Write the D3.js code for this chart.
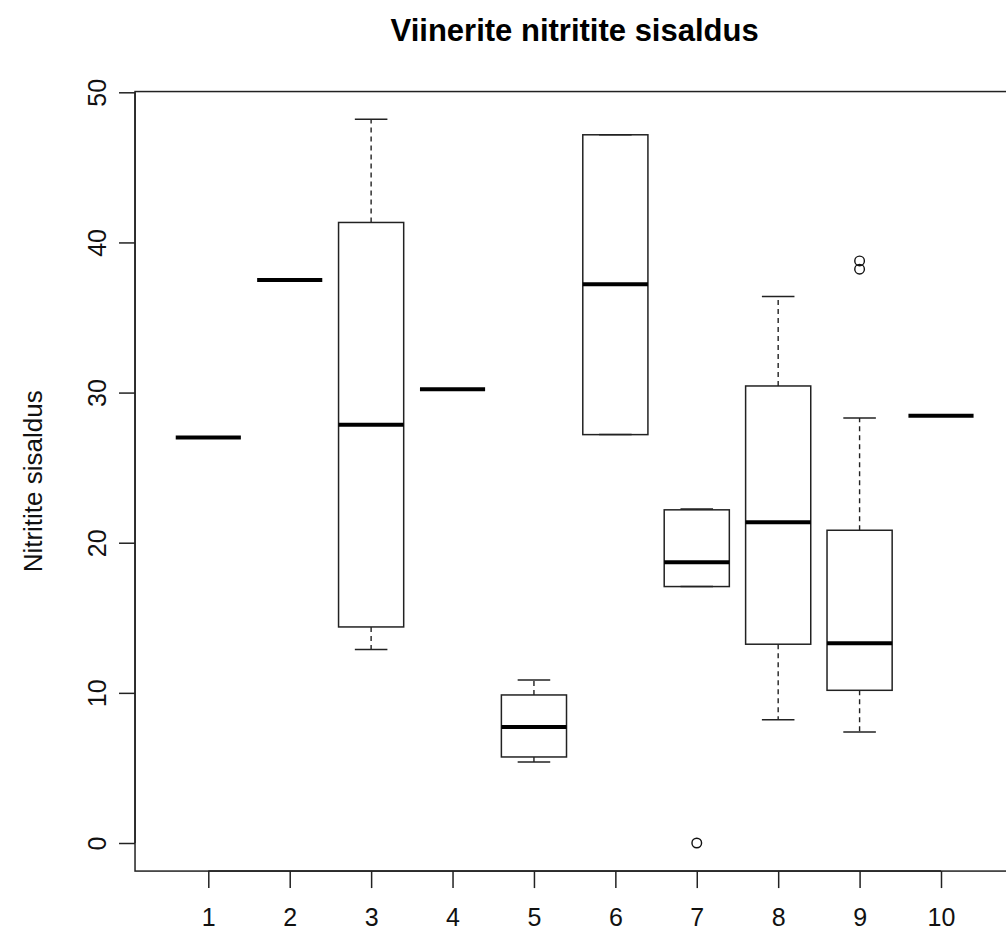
<!DOCTYPE html>
<html>
<head>
<meta charset="utf-8">
<script src="https://cdn.jsdelivr.net/npm/d3@7"></script>
<style>
  html, body { margin: 0; padding: 0; background: #fff; }
  svg { display: block; font-family: "Liberation Sans", Arial, sans-serif; }
</style>
</head>
<body>
<svg id="chart" width="1006" height="932"></svg>
<script>
// Nitrite content of wieners, by sample group (boxplot statistics)
const categories    = [1, 2, 3, 4, 5, 6, 7, 8, 9, 10];
const lowerWhisker  = [27.0, 37.5, 12.88, 30.23, 5.4, 27.2, 17.08, 8.21, 7.39, 28.45];
const lowerQuartile = [27.0, 37.5, 14.39, 30.23, 5.73, 27.2, 17.08, 13.24, 10.17, 28.45];
const medians       = [27.0, 37.5, 27.85, 30.23, 7.73, 37.22, 18.7, 21.37, 13.3, 28.45];
const upperQuartile = [27.0, 37.5, 41.33, 30.23, 9.86, 47.17, 22.19, 30.44, 20.83, 28.45];
const upperWhisker  = [27.0, 37.5, 48.2, 30.23, 10.86, 47.17, 22.25, 36.4, 28.3, 28.45];
const outlierGroups = [7, 9, 9];
const outlierValues = [0.0, 38.77, 38.22];
const yTicks = [0, 10, 20, 30, 40, 50];

const titleText = "Viinerite nitritite sisaldus";
const yLabelText = "Nitritite sisaldus";

const svg = d3.select("#chart");

// Scales: groups sit at integer positions, plot region spans 0.1..10.9
const xLim = [0.1, 10.9];
const yLim = [-1.87, 50.05];
const xs = d3.scaleLinear().domain([1, 10]).range([208.3, 941]);
const ys = d3.scaleLinear().domain([0, 50]).range([843, 92.3]);

const boxW = (xs(2) - xs(1)) * 0.8;
const capW = boxW / 2;

const stats = categories.map((c, i) => ({
  c, lo: lowerWhisker[i], q1: lowerQuartile[i], med: medians[i],
  q3: upperQuartile[i], hi: upperWhisker[i]
}));

const g = svg.append("g");

// whiskers (dashed), caps and boxes
stats.forEach(s => {
  const cx = xs(s.c);
  if (s.hi > s.q3) {
    g.append("line").attr("x1", cx).attr("x2", cx)
      .attr("y1", ys(s.q3)).attr("y2", ys(s.hi))
      .attr("stroke", "#222").attr("stroke-width", 1.4).attr("stroke-dasharray", "5,4");
  }
  if (s.lo < s.q1) {
    g.append("line").attr("x1", cx).attr("x2", cx)
      .attr("y1", ys(s.q1)).attr("y2", ys(s.lo))
      .attr("stroke", "#222").attr("stroke-width", 1.4).attr("stroke-dasharray", "5,4");
  }
  if (s.q3 > s.q1) {
    [s.lo, s.hi].forEach(v => {
      g.append("line").attr("x1", cx - capW / 2).attr("x2", cx + capW / 2)
        .attr("y1", ys(v)).attr("y2", ys(v))
        .attr("stroke", "#222").attr("stroke-width", 1.5);
    });
    g.append("rect")
      .attr("x", cx - boxW / 2).attr("width", boxW)
      .attr("y", ys(s.q3)).attr("height", ys(s.q1) - ys(s.q3))
      .attr("fill", "none").attr("stroke", "#222").attr("stroke-width", 1.5);
  }
  // median bar
  g.append("line").attr("x1", cx - boxW / 2).attr("x2", cx + boxW / 2)
    .attr("y1", ys(s.med)).attr("y2", ys(s.med))
    .attr("stroke", "#000").attr("stroke-width", 4);
});

// outliers
g.selectAll("circle.out").data(outlierValues).enter().append("circle")
  .attr("class", "out")
  .attr("cx", (d, i) => xs(outlierGroups[i]))
  .attr("cy", d => ys(d))
  .attr("r", 4.8)
  .attr("fill", "none").attr("stroke", "#111").attr("stroke-width", 1.4);

// plot frame
const fx0 = xs(xLim[0]), fx1 = xs(xLim[1]);
const fy0 = ys(yLim[0]), fy1 = ys(yLim[1]);
svg.append("rect")
  .attr("x", fx0).attr("y", fy1)
  .attr("width", fx1 - fx0).attr("height", fy0 - fy1)
  .attr("fill", "none").attr("stroke", "#222").attr("stroke-width", 1.5);

// y axis
const yAxis = d3.axisLeft(ys).tickValues(yTicks).tickSize(16).tickPadding(0).tickFormat(d3.format("d"));
const yg = svg.append("g").attr("transform", `translate(${fx0},0)`).call(yAxis);
yg.select(".domain")
  .attr("d", `M0,${ys(yTicks[0])}V${ys(yTicks[yTicks.length - 1])}`)
  .attr("stroke", "#222").attr("stroke-width", 1.5);
yg.selectAll(".tick line").attr("stroke", "#222").attr("stroke-width", 1.5);
yg.selectAll(".tick text")
  .attr("font-size", 25).attr("fill", "#111")
  .attr("x", null).attr("dy", null)
  .attr("text-anchor", "middle")
  .attr("transform", "translate(-29,0) rotate(-90)");

// x axis
const xAxis = d3.axisBottom(xs).tickValues(categories).tickSize(17).tickPadding(0).tickFormat(d3.format("d"));
const xg = svg.append("g").attr("transform", `translate(0,${fy0})`).call(xAxis);
xg.select(".domain")
  .attr("d", `M${xs(categories[0])},0H${xs(categories[categories.length - 1])}`)
  .attr("stroke", "#222").attr("stroke-width", 1.5);
xg.selectAll(".tick line").attr("stroke", "#222").attr("stroke-width", 1.5);
xg.selectAll(".tick text")
  .attr("font-size", 25).attr("fill", "#111")
  .attr("y", 55).attr("dy", null);

// title
svg.append("text")
  .attr("x", (fx0 + fx1) / 2).attr("y", 41)
  .attr("text-anchor", "middle")
  .attr("font-size", 31).attr("font-weight", "bold").attr("fill", "#000")
  .text(titleText);

// y axis label
svg.append("text")
  .attr("transform", `translate(42,${(fy0 + fy1) / 2}) rotate(-90)`)
  .attr("text-anchor", "middle")
  .attr("font-size", 26).attr("fill", "#111")
  .text(yLabelText);
</script>
</body>
</html>
